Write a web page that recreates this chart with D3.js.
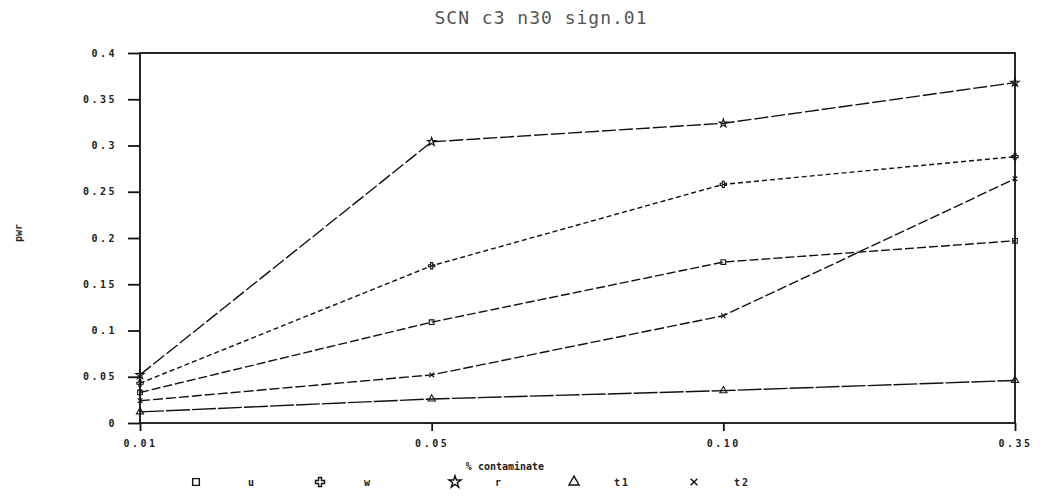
<!DOCTYPE html>
<html>
<head>
<meta charset="utf-8">
<script src="https://cdn.jsdelivr.net/npm/d3@7"></script>
<style>
  body { margin: 0; background: #fff; }
  text { font-family: "DejaVu Sans Mono", monospace; }
</style>
</head>
<body>
<svg id="chart" width="1043" height="497"></svg>
<script>
// data
const contaminate = ["0.01", "0.05", "0.10", "0.35"],
    yTicks = [0, 0.05, 0.1, 0.15, 0.2, 0.25, 0.3, 0.35, 0.4],
    seriesNames = ["u", "w", "r", "t1", "t2"],
    uValues = [0.033, 0.109, 0.174, 0.197],
    wValues = [0.043, 0.170, 0.258, 0.288],
    rValues = [0.052, 0.304, 0.324, 0.368],
    t1Values = [0.012, 0.026, 0.035, 0.046],
    t2Values = [0.024, 0.052, 0.116, 0.264];

const series = [
  {"name": seriesNames[0], "values": uValues, "symbol": d3.symbolSquare, "dash": "9,3"},
  {"name": seriesNames[1], "values": wValues, "symbol": d3.symbolCross, "dash": "5,3"},
  {"name": seriesNames[2], "values": rValues, "symbol": d3.symbolStar, "dash": "14,3"},
  {"name": seriesNames[3], "values": t1Values, "symbol": d3.symbolTriangle, "dash": "24,2"},
  {"name": seriesNames[4], "values": t2Values, "symbol": "x", "dash": "10,3"}
];

const svg = d3.select("#chart"),
    margin = {"left": 140, "right": 28, "top": 53, "bottom": 74},
    width = +svg.attr("width"),
    height = +svg.attr("height");

const x = d3.scalePoint()
    .domain(contaminate)
    .range([margin.left, width - margin.right]);

const y = d3.scaleLinear()
    .domain([0, 0.4])
    .range([height - margin.bottom, margin.top]);

function symbolPath(s, size) {
  if (s === "x") {
    const r = Math.sqrt(size) / 2;
    return "M" + -r + "," + -r + "L" + r + "," + r + "M" + -r + "," + r + "L" + r + "," + -r;
  }
  return d3.symbol().type(s).size(size)();
}

// title
svg.append("text")
    .attr("x", 541)
    .attr("y", 24)
    .attr("text-anchor", "middle")
    .style("font-size", "18px")
    .style("letter-spacing", "1px")
    .style("fill", "#555")
    .text("SCN c3 n30 sign.01");

// frame
svg.append("rect")
    .attr("x", x.range()[0])
    .attr("y", y.range()[1])
    .attr("width", x.range()[1] - x.range()[0])
    .attr("height", y.range()[0] - y.range()[1])
    .style("fill", "none")
    .style("stroke", "#111")
    .style("stroke-width", 1.8);

// y axis
const yAxis = svg.append("g")
    .attr("transform", "translate(" + margin.left + ",0)")
    .call(d3.axisLeft(y).tickValues(yTicks).tickSize(12).tickPadding(11)
      .tickFormat(function(d) { return d3.format("")(+d.toFixed(2)); }));

// x axis
const xAxis = svg.append("g")
    .attr("transform", "translate(0," + y.range()[0] + ")")
    .call(d3.axisBottom(x).tickSize(8).tickPadding(9));

[yAxis, xAxis].forEach(function(a) {
  a.select(".domain").remove();
  a.selectAll("line").style("stroke", "#111").style("stroke-width", 1.8);
  a.selectAll("text")
      .style("font-family", "'DejaVu Sans Mono', monospace")
      .style("font-size", "10px")
      .style("font-weight", "bold")
      .style("letter-spacing", "2.5px")
      .style("fill", "#222");
});

// axis titles
svg.append("text")
    .attr("x", 505)
    .attr("y", 470)
    .attr("text-anchor", "middle")
    .style("font-size", "10px")
    .style("font-weight", "bold")
    .style("fill", "#222")
    .text("% contaminate");

svg.append("text")
    .attr("transform", "translate(22,233) rotate(-90)")
    .attr("text-anchor", "middle")
    .style("font-size", "10px")
    .style("font-weight", "bold")
    .style("fill", "#222")
    .text("pwr");

// lines
const line = d3.line()
    .x(function(d, i) { return x(contaminate[i]); })
    .y(function(d) { return y(d); });

const lines = svg.append("g")
    .attr("class", "series")
  .selectAll("g")
    .data(series)
  .enter().append("g");

lines.append("path")
    .attr("d", function(d) { return line(d.values); })
    .style("fill", "none")
    .style("stroke", "#111")
    .style("stroke-width", 1.4)
    .style("stroke-dasharray", function(d) { return d.dash; });

lines.selectAll("path.mark")
    .data(function(d) {
      return d.values.map(function(v, i) { return {"v": v, "i": i, "symbol": d.symbol}; });
    })
  .enter().append("path")
    .attr("class", "mark")
    .attr("transform", function(d) {
      return "translate(" + x(contaminate[d.i]) + "," + y(d.v) + ")";
    })
    .attr("d", function(d) { return symbolPath(d.symbol, 22); })
    .style("fill", "none")
    .style("stroke", "#111")
    .style("stroke-width", 1.1);

// legend
const legendX = [196, 320, 455, 574, 694];
const legend = svg.append("g")
    .attr("class", "legend")
  .selectAll("g")
    .data(series)
  .enter().append("g")
    .attr("transform", function(d, i) { return "translate(" + legendX[i] + ",482)"; });

legend.append("path")
    .attr("d", function(d) { return symbolPath(d.symbol, 45); })
    .style("fill", "none")
    .style("stroke", "#111")
    .style("stroke-width", 1.4);

legend.append("text")
    .attr("x", function(d, i) { return i === 0 ? 52 : (i === 1 ? 44 : 40); })
    .attr("y", 4)
    .style("font-size", "10px")
    .style("font-weight", "bold")
    .style("letter-spacing", "2px")
    .style("fill", "#222")
    .text(function(d) { return d.name; });
</script>
</body>
</html>
